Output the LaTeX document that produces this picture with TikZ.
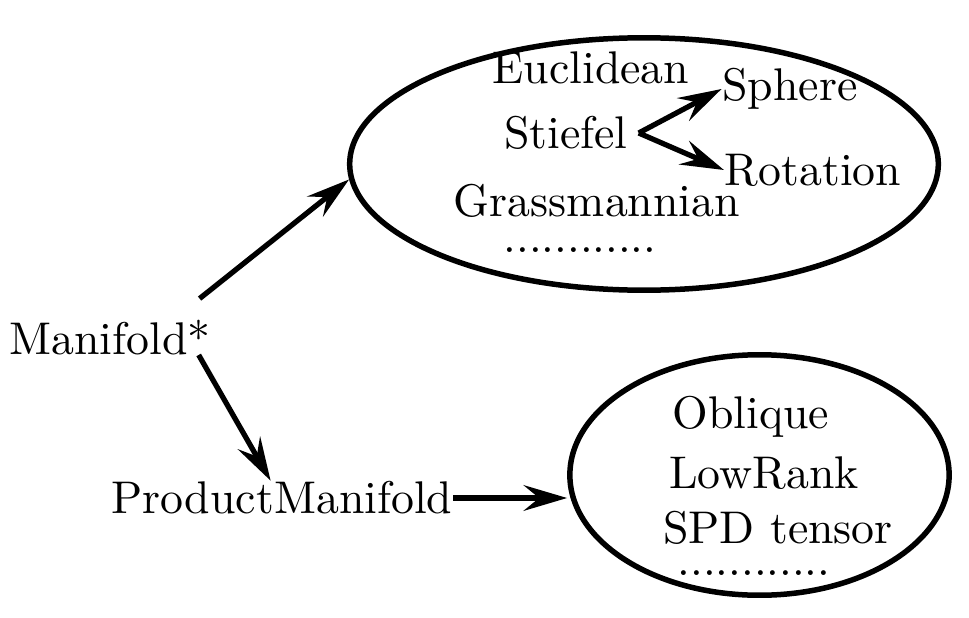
\documentclass[tikz,border=0pt]{standalone}
\usetikzlibrary{arrows.meta,shapes.geometric}
\begin{document}
\begin{tikzpicture}[x=0.2183pt,y=-0.2183pt,
  lbl/.style={inner sep=0pt},
  arr/.style={line width=1.15pt,-{Stealth[length=9.5pt,width=5.6pt,inset=3.4pt]}},
  oval/.style={draw,ellipse,line width=1.2pt,inner sep=0pt}]
\useasboundingbox (0,0) rectangle (969,618);
\node[oval,minimum width=128.5pt,minimum height=55.1pt] (big) at (644,164) {};
\node[oval,minimum width=82.8pt,minimum height=52.5pt] (small) at (759.5,475) {};
\node[lbl] (m) at (110,338) {Manifold*};
\node[lbl] (pm) at (282,498) {ProductManifold};
\node[lbl] (eu) at (591,68) {Euclidean};
\node[lbl] (st) at (566,133) {Stiefel};
\node[lbl] (sp) at (790,89) {Sphere};
\node[lbl] (ro) at (813,170) {Rotation};
\node[lbl] (gr) at (597,201) {Grassmannian};
\node[lbl] (d1) at (580,250) {............};
\node[lbl] (ob) at (751,417) {Oblique};
\node[lbl] (lr) at (764,473) {LowRank};
\node[lbl] (spd) at (778,528) {SPD tensor};
\node[lbl] (d2) at (754,573) {............};
\draw[arr] ([xshift=-2.6pt,yshift=4.6pt]m.north east) -- (big.183);
\draw[arr] ([xshift=-2.8pt,yshift=-3.7pt]m.east) -- ([xshift=34.9pt]pm.north west);
\draw[arr] (pm.east) -- (pm.east -| small.west);
\draw[arr] ([xshift=2.2pt]st.east) -- (sp.west);
\draw[arr] ([xshift=2.2pt]st.east) -- (ro.west);
\end{tikzpicture}
\end{document}
